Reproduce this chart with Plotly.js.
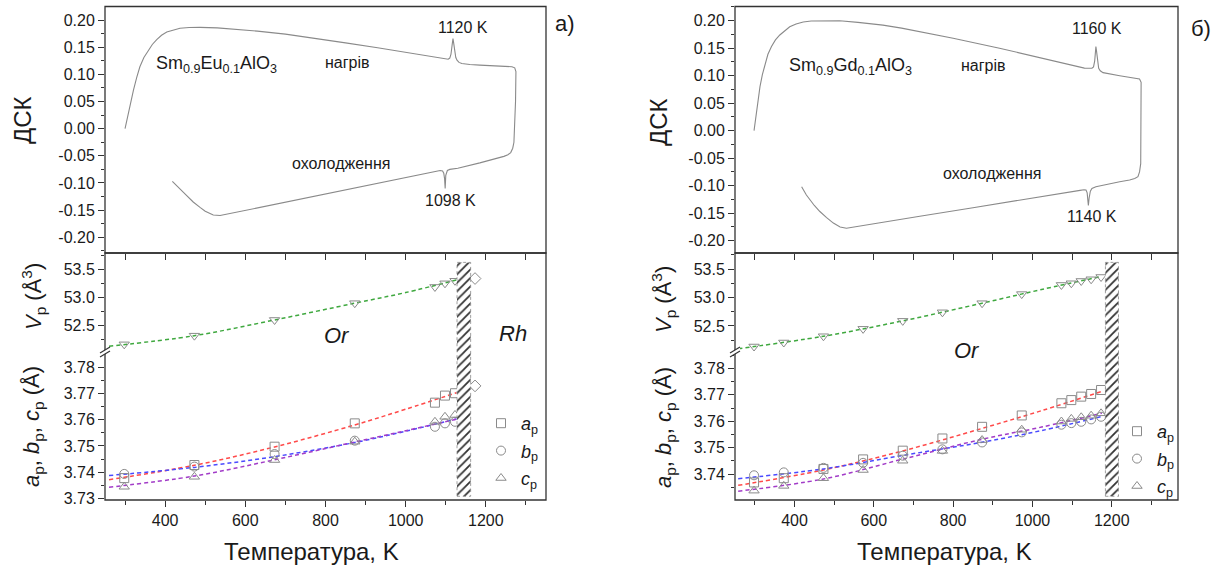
<!DOCTYPE html>
<html><head><meta charset="utf-8">
<script src="https://cdn.plot.ly/plotly-3.0.1.min.js"></script>
<style>html,body{margin:0;padding:0;background:#fff}#chart{width:1221px;height:570px}</style>
</head><body><div id="chart"></div>
<script>
// ================= DATA: (a) Sm0.9Eu0.1AlO3 =================
const dscT_L = [300,304,308,314,321,329,337,347,358,368,379,391,404,420,437,460,487,530,570,630,700,780,850,930,1000,1060,1100,1106,1110,1113,1116,1118,1120,1122,1125,1128,1133,1140,1160,1185,1230,1265,1272,1275,1274,1272,1270,1267,1262,1255,1245,1185,1130,1110,1104,1100,1098.5,1097,1095,1092,1086,1080,1000,900,800,737,680,620,580,555,537,520,500,487,470,452,435,418];
const dsc_L = [0.000,0.014,0.028,0.050,0.071,0.094,0.114,0.131,0.145,0.155,0.164,0.172,0.178,0.182,0.185,0.1862,0.1865,0.1855,0.1835,0.1795,0.174,0.166,0.158,0.149,0.141,0.134,0.1285,0.1278,0.130,0.137,0.155,0.166,0.156,0.142,0.131,0.126,0.122,0.120,0.118,0.117,0.1155,0.114,0.112,0.105,0.050,0.000,-0.025,-0.036,-0.044,-0.048,-0.051,-0.063,-0.073,-0.075,-0.077,-0.086,-0.110,-0.092,-0.082,-0.078,-0.077,-0.078,-0.090,-0.1053,-0.1206,-0.130,-0.139,-0.148,-0.154,-0.158,-0.160,-0.159,-0.152,-0.145,-0.135,-0.122,-0.109,-0.097];

const tempL = [298, 473, 673, 873, 1073, 1098, 1123, 1148];
const aL = [3.7377, 3.7427, 3.7497, 3.7586, 3.7665, 3.7692, 3.7701, 3.7707];
const bL = [3.7393, 3.7421, 3.7469, 3.7520, 3.7573, 3.7586, 3.7592, 3.7599];
const cL = [3.7344, 3.7382, 3.7446, 3.7516, 3.7592, 3.7611, 3.7618, 3.7618];
const VL = [52.155, 52.31, 52.59, 52.89, 53.18, 53.245, 53.29, 53.30];
const rhT_L = [1173];
const rhA_L = [3.7729];
const rhV_L = [53.33];

const fitT_L = [260, 473, 673, 873, 1000, 1127];
const aFitL = [3.7371, 3.7426, 3.7496, 3.7580, 3.7640, 3.7703];
const bFitL = [3.7387, 3.7418, 3.7459, 3.7513, 3.7556, 3.7603];
const cFitL = [3.7342, 3.7385, 3.7447, 3.7515, 3.7558, 3.7602];
const VfitT_L = [260, 473, 673, 873, 1000, 1135];
const VFitL = [52.12, 52.31, 52.59, 52.89, 53.08, 53.32];
const hatchT_L = [1128, 1162];

// ================= DATA: (б) Sm0.9Gd0.1AlO3 =================
const dscT_R = [298,301,305,309,313,319,326,333,342,352,363,375,388,404,422,442,464,490,514,560,623,670,716,800,917,1000,1060,1100,1131,1150,1154,1157,1159,1160,1161.5,1164,1167,1171,1178,1220,1260,1270,1274,1274,1273,1270,1266,1258,1245,1220,1190,1160,1150,1146,1143,1141,1139.5,1138,1135,1130,1120,1050,950,850,716,640,590,560,545,531,515,498,481,464,450,440,430,418];
const dsc_R = [0.000,0.018,0.038,0.060,0.080,0.102,0.1225,0.139,0.153,0.165,0.174,0.182,0.189,0.194,0.1976,0.1995,0.200,0.200,0.1998,0.197,0.192,0.1865,0.180,0.168,0.150,0.136,0.1255,0.119,0.1137,0.1135,0.116,0.127,0.145,0.153,0.145,0.125,0.1135,0.109,0.1055,0.100,0.0955,0.094,0.088,0.000,-0.060,-0.075,-0.0836,-0.087,-0.0896,-0.093,-0.097,-0.102,-0.105,-0.110,-0.122,-0.136,-0.125,-0.113,-0.108,-0.1075,-0.1085,-0.117,-0.1285,-0.140,-0.1555,-0.1645,-0.1705,-0.1745,-0.1765,-0.1775,-0.175,-0.168,-0.158,-0.147,-0.136,-0.127,-0.117,-0.102];

const tempR = [298, 373, 473, 573, 673, 773, 873, 973, 1073, 1098, 1123, 1148, 1173];
const aR = [3.7369, 3.7385, 3.7420, 3.7456, 3.7489, 3.7535, 3.7579, 3.7622, 3.7668, 3.7680, 3.7693, 3.7703, 3.7718];
const bR = [3.7396, 3.7407, 3.7424, 3.7443, 3.7470, 3.7494, 3.7520, 3.7558, 3.7587, 3.7593, 3.7598, 3.7607, 3.7617];
const cR = [3.7338, 3.7356, 3.7385, 3.7416, 3.7451, 3.7488, 3.7529, 3.7568, 3.7599, 3.7609, 3.7615, 3.7621, 3.7630];
const VR = [52.14, 52.21, 52.32, 52.45, 52.59, 52.74, 52.90, 53.06, 53.22, 53.25, 53.29, 53.32, 53.36];

const fitT_R = [258, 473, 673, 873, 1023, 1175];
const aFitR = [3.7358, 3.7416, 3.7488, 3.7573, 3.7640, 3.7713];
const bFitR = [3.7383, 3.7420, 3.7471, 3.7521, 3.7565, 3.7618];
const cFitR = [3.7336, 3.7382, 3.7457, 3.7532, 3.7578, 3.7630];
const VFitR = [52.10, 52.32, 52.59, 52.90, 53.14, 53.37];
const hatchT_R = [1184, 1217];

const hatchY = [0.015, 0.962];

// ================= Tick labels =================
const dscTicks = [-0.20,-0.15,-0.10,-0.05,0.00,0.05,0.10,0.15,0.20];
const dscLabels = ['-0.20','-0.15','-0.10','-0.05','0.00','0.05','0.10','0.15','0.20'];
const tempTicks = [400, 600, 800, 1000, 1200];
const tempLabels = ['400','600','800','1000','1200'];

// ================= Layout helpers =================
const W = 1221, H = 570;
const px = v => v / W, py = v => 1 - v / H;
const FONT = 'Liberation Sans, Arial, Helvetica, sans-serif';
const TXT = '#1a1a1a', AX = '#333';

const xL = [px(105), px(546)], xR = [px(735), px(1178)];
const yTop = [py(253), py(6.5)], yV = [py(351), py(253)], yLat = [py(500), py(351)], yAll = [py(500), py(253)];

function minor(d) { return {ticks:'outside', ticklen:3.5, tickwidth:1, tickcolor:AX, showgrid:false, dtick:d, tick0:0}; }
function ax(extra) {
  return Object.assign({showgrid:false, zeroline:false, showline:false, ticks:'outside', ticklen:6, tickwidth:1,
    tickcolor:AX, tickfont:{family:FONT, size:16, color:TXT}, fixedrange:true}, extra);
}

const COLS = {a:'#ff4a4a', b:'#4a4aff', c:'#a23cc8', V:'#3fa83f'};
const MK = '#8a8a8a';

function fitLine(x, y, xa, ya, col) {
  return {x:x, y:y, xaxis:xa, yaxis:ya, mode:'lines', line:{color:col, width:1.5, dash:'4px,3px', shape:'spline'},
    showlegend:false, hoverinfo:'skip'};
}
function pts(x, y, xa, ya, sym, name, leg, grp) {
  return {x:x, y:y, xaxis:xa, yaxis:ya, mode:'markers', name:name || '', showlegend:!!name, legend:leg || 'legend',
    legendgroup:grp || undefined,
    marker:{symbol:sym, size:9, color:MK, line:{width:1, color:MK}}, hoverinfo:'skip'};
}
function hatch(t, xa, ya) {
  return {x:[t[0], t[1], t[1], t[0], t[0]], y:[hatchY[0], hatchY[0], hatchY[1], hatchY[1], hatchY[0]],
    xaxis:xa, yaxis:ya, mode:'lines', fill:'toself', fillcolor:'white',
    fillpattern:{shape:'/', fgcolor:'#333', bgcolor:'white', size:6, solidity:0.3},
    line:{color:'#888', width:0.8, dash:'dot'}, showlegend:false, hoverinfo:'skip'};
}

const traces = [
  {x:dscT_L, y:dsc_L, xaxis:'x2', yaxis:'y', mode:'lines', line:{color:'#8a8a8a', width:1.1}, showlegend:false, hoverinfo:'skip'},
  fitLine(VfitT_L, VFitL, 'x', 'y2', COLS.V),
  fitLine(fitT_L, aFitL, 'x', 'y3', COLS.a),
  fitLine(fitT_L, bFitL, 'x', 'y3', COLS.b),
  fitLine(fitT_L, cFitL, 'x', 'y3', COLS.c),
  hatch(hatchT_L, 'x', 'y4'),
  pts(tempL, VL, 'x', 'y2', 'triangle-down-open'),
  pts(rhT_L, rhV_L, 'x', 'y2', 'diamond-open'),
  pts(tempL, aL, 'x', 'y3', 'square-open', '<i>a</i><sub>p</sub>', 'legend', 'aL'),
  pts(tempL, bL, 'x', 'y3', 'circle-open', '<i>b</i><sub>p</sub>', 'legend', 'bL'),
  pts(tempL, cL, 'x', 'y3', 'triangle-up-open', '<i>c</i><sub>p</sub>', 'legend', 'cL'),
  pts(rhT_L, rhA_L, 'x', 'y3', 'diamond-open'),
  {x:dscT_R, y:dsc_R, xaxis:'x4', yaxis:'y5', mode:'lines', line:{color:'#8a8a8a', width:1.1}, showlegend:false, hoverinfo:'skip'},
  fitLine(fitT_R, VFitR, 'x3', 'y6', COLS.V),
  fitLine(fitT_R, aFitR, 'x3', 'y7', COLS.a),
  fitLine(fitT_R, bFitR, 'x3', 'y7', COLS.b),
  fitLine(fitT_R, cFitR, 'x3', 'y7', COLS.c),
  hatch(hatchT_R, 'x3', 'y8'),
  pts(tempR, VR, 'x3', 'y6', 'triangle-down-open'),
  pts(tempR, aR, 'x3', 'y7', 'square-open', '<i>a</i><sub>p</sub>', 'legend2', 'aR'),
  pts(tempR, bR, 'x3', 'y7', 'circle-open', '<i>b</i><sub>p</sub>', 'legend2', 'bR'),
  pts(tempR, cR, 'x3', 'y7', 'triangle-up-open', '<i>c</i><sub>p</sub>', 'legend2', 'cR')
];

function frame(x0, x1, y0, y1) {
  return {type:'rect', xref:'paper', yref:'paper', x0:px(x0), x1:px(x1), y0:py(y1), y1:py(y0),
    line:{color:AX, width:1.3}, fillcolor:'rgba(0,0,0,0)', layer:'above'};
}
function brk(x, y) {
  const P = (a, b) => px(a) + ',' + py(b);
  return [
    {type:'path', xref:'paper', yref:'paper', path:'M' + P(x-5, y+2) + 'L' + P(x+5, y-4) + 'L' + P(x+5, y) + 'L' + P(x-5, y+6) + 'Z',
      fillcolor:'white', line:{width:0}, layer:'above'},
    {type:'line', xref:'paper', yref:'paper', x0:px(x-5), y0:py(y+2), x1:px(x+5), y1:py(y-4), line:{color:AX, width:1.2}, layer:'above'},
    {type:'line', xref:'paper', yref:'paper', x0:px(x-5), y0:py(y+6), x1:px(x+5), y1:py(y), line:{color:AX, width:1.2}, layer:'above'}
  ];
}

function ann(text, xref, yref, x, y, size, extra) {
  return Object.assign({text:text, xref:xref, yref:yref, x:x, y:y, showarrow:false, xanchor:'center', yanchor:'middle',
    font:{family:FONT, size:size, color:TXT}}, extra || {});
}
const rot = {textangle:-90};
const annotations = [
  ann('Sm<sub>0.9</sub>Eu<sub>0.1</sub>AlO<sub>3</sub>', 'x2', 'y', 372, 0.119, 18, {xanchor:'left'}),
  ann('нагрів', 'x2', 'y', 854, 0.1226, 16),
  ann('1120 K', 'x2', 'y', 1143, 0.186, 16),
  ann('охолодження', 'x2', 'y', 839, -0.065, 16),
  ann('1098 K', 'x2', 'y', 1113, -0.1315, 16),
  ann('a)', 'paper', 'paper', px(565), py(23), 22),
  ann('<i>Or</i>', 'paper', 'paper', px(337), py(335), 22),
  ann('<i>Rh</i>', 'paper', 'paper', px(513), py(333), 22),
  ann('ДСК', 'paper', 'paper', px(22), py(120), 24, rot),
  ann('<i>V</i><sub>p</sub> (Å<sup>3</sup>)', 'paper', 'paper', px(33), py(297), 22, rot),
  ann('<i>a</i><sub>p</sub>, <i>b</i><sub>p</sub>, <i>c</i><sub>p</sub> (Å)', 'paper', 'paper', px(33), py(427), 22, rot),
  ann('Температура, K', 'paper', 'paper', px(311), py(551), 24),
  ann('Sm<sub>0.9</sub>Gd<sub>0.1</sub>AlO<sub>3</sub>', 'x4', 'y5', 381, 0.1176, 18, {xanchor:'left'}),
  ann('нагрів', 'x4', 'y5', 876, 0.119, 16),
  ann('1160 K', 'x4', 'y5', 1164, 0.185, 16),
  ann('охолодження', 'x4', 'y5', 897, -0.0773, 16),
  ann('1140 K', 'x4', 'y5', 1149, -0.156, 16),
  ann('б)', 'paper', 'paper', px(1201), py(28), 22),
  ann('<i>Or</i>', 'paper', 'paper', px(967), py(350), 22),
  ann('ДСК', 'paper', 'paper', px(658), py(122), 24, rot),
  ann('<i>V</i><sub>p</sub> (Å<sup>3</sup>)', 'paper', 'paper', px(663), py(300), 22, rot),
  ann('<i>a</i><sub>p</sub>, <i>b</i><sub>p</sub>, <i>c</i><sub>p</sub> (Å)', 'paper', 'paper', px(665), py(428), 22, rot),
  ann('Температура, K', 'paper', 'paper', px(944), py(551), 24)
];

const legendBase = {xanchor:'left', yanchor:'top', font:{family:FONT, size:18, color:TXT}, bgcolor:'rgba(0,0,0,0)',
  borderwidth:0, tracegroupgap:1, itemwidth:30};

const layout = {
  width:W, height:H, margin:{l:0, r:0, t:0, b:0}, paper_bgcolor:'white', plot_bgcolor:'rgba(0,0,0,0)',
  font:{family:FONT, color:TXT}, hovermode:false,
  xaxis: ax({domain:xL, range:[250,1350], anchor:'y3', tickmode:'array', tickvals:tempTicks, ticktext:tempLabels, minor:minor(100)}),
  xaxis2: ax({domain:xL, range:[250,1350], anchor:'y', dtick:100, tick0:0, showticklabels:false}),
  yaxis: ax({domain:yTop, range:[-0.2289,0.2249], anchor:'x2', tickmode:'array', tickvals:dscTicks, ticktext:dscLabels, minor:minor(0.025)}),
  yaxis2: ax({domain:yV, range:[52.036,53.786], anchor:'x', dtick:0.5, tick0:0, tickformat:'.1f', minor:minor(0.25)}),
  yaxis3: ax({domain:yLat, range:[3.72935,3.78622], anchor:'x', dtick:0.01, tick0:0, tickformat:'.2f', minor:minor(0.005)}),
  yaxis4: {domain:yAll, range:[0,1], anchor:'x', visible:false, fixedrange:true},
  xaxis3: ax({domain:xR, range:[250,1367], anchor:'y7', tickmode:'array', tickvals:tempTicks, ticktext:tempLabels, minor:minor(100)}),
  xaxis4: ax({domain:xR, range:[250,1367], anchor:'y5', dtick:100, tick0:0, showticklabels:false}),
  yaxis5: ax({domain:yTop, range:[-0.2224,0.2258], anchor:'x4', tickmode:'array', tickvals:dscTicks, ticktext:dscLabels, minor:minor(0.025)}),
  yaxis6: ax({domain:yV, range:[52.061,53.781], anchor:'x3', dtick:0.5, tick0:0, tickformat:'.1f', minor:minor(0.25)}),
  yaxis7: ax({domain:yLat, range:[3.73027,3.78653], anchor:'x3', dtick:0.01, tick0:0, tickformat:'.2f', minor:minor(0.005)}),
  yaxis8: {domain:yAll, range:[0,1], anchor:'x3', visible:false, fixedrange:true},
  legend: Object.assign({x:px(481), y:py(405)}, legendBase),
  legend2: Object.assign({x:px(1117), y:py(413)}, legendBase),
  shapes: [frame(105,546,6.5,253), frame(105,546,253,500), frame(735,1178,6.5,253), frame(735,1178,253,500)]
    .concat(brk(105, 351)).concat(brk(735, 351)),
  annotations: annotations
};

Plotly.newPlot('chart', traces, layout, {staticPlot:true, displayModeBar:false});
</script>
</body></html>
